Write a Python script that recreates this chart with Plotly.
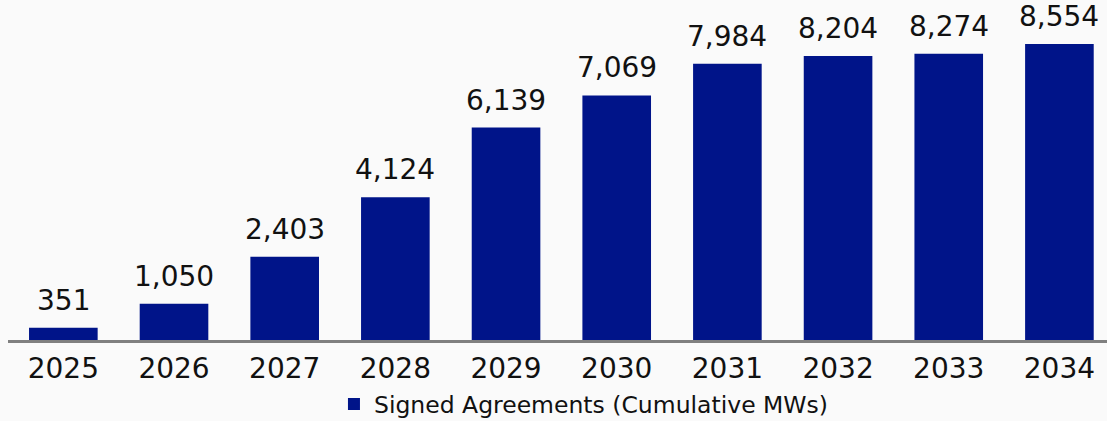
import plotly.graph_objects as go

# Cumulative signed agreements by year (MW)
years = ["2025", "2026", "2027", "2028", "2029", "2030", "2031", "2032", "2033", "2034"]
signed_mw = [351, 1050, 2403, 4124, 6139, 7069, 7984, 8204, 8274, 8554]
series_name = "Signed Agreements (Cumulative MWs)"

BAR_COLOR = "#001489"
FONT = "DejaVu Sans"
TEXT_COLOR = "#111111"

fig = go.Figure()
fig.add_trace(go.Bar(
    x=years,
    y=signed_mw,
    name=series_name,
    marker=dict(color=BAR_COLOR, line=dict(width=0)),
    width=0.62,
    showlegend=True,
))

# value labels sitting above each bar (category index positions)
for i, v in enumerate(signed_mw):
    fig.add_annotation(
        x=i, y=v, text=f"{v:,}",
        showarrow=False, yanchor="bottom", yshift=9,
        font=dict(family=FONT, size=28, color=TEXT_COLOR),
    )

fig.update_layout(
    width=1107,
    height=421,
    margin=dict(l=8, r=0, t=0, b=81, autoexpand=False),
    paper_bgcolor="#fafafa",
    plot_bgcolor="rgba(0,0,0,0)",
    font=dict(family=FONT, size=28, color=TEXT_COLOR),
    showlegend=True,
    legend=dict(
        orientation="h",
        x=0.2966, xanchor="left",
        yref="container",
        y=0.04, yanchor="middle",
        font=dict(family=FONT, size=23.5, color=TEXT_COLOR),
        bgcolor="rgba(0,0,0,0)",
    ),
    xaxis=dict(
        type="category",
        range=[-0.5, 9.43],
        automargin=False,
        showgrid=False,
        showline=True,
        linecolor="#808080",
        linewidth=3,
        ticks="",
        ticklabelstandoff=1,
        tickfont=dict(family=FONT, size=28, color=TEXT_COLOR),
        fixedrange=True,
    ),
    yaxis=dict(
        range=[0, 9826],
        visible=False,
        showgrid=False,
        zeroline=False,
        fixedrange=True,
    ),
)

fig.write_html("out.html")
